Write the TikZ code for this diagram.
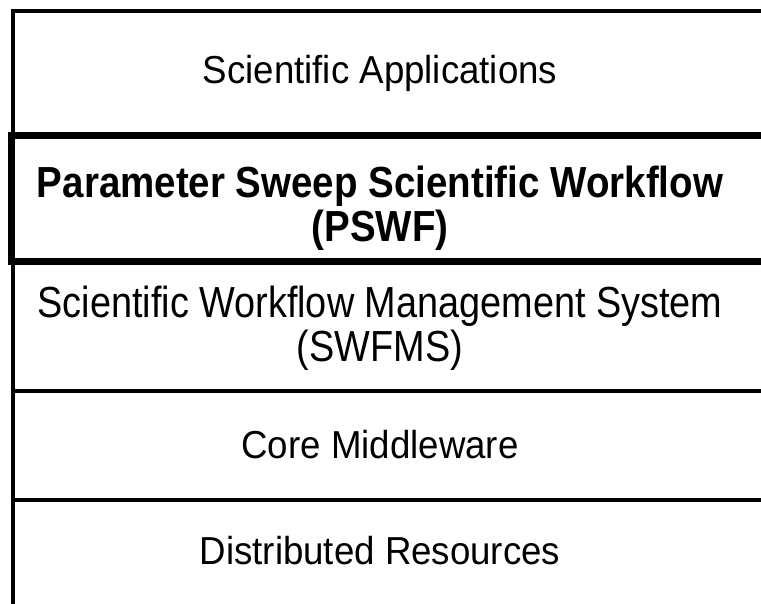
\documentclass[tikz,border=0pt]{standalone}
\usepackage{fontspec}
\setmainfont{Liberation Sans}
\newfontfamily\layerfont[FakeStretch=0.94]{Liberation Sans}
\newfontfamily\widelayerfont[FakeStretch=0.87]{Liberation Sans}
\newfontfamily\boldlayerfont[FakeStretch=0.885]{Liberation Sans Bold}
\begin{document}
\begin{tikzpicture}[x=1pt,y=-1pt,
    layer/.style={font=\layerfont\fontsize{39}{44}\selectfont, align=center, inner sep=0pt},
    widelayer/.style={layer, font=\widelayerfont\fontsize{43.5}{44}\selectfont},
    boldlayer/.style={layer, font=\boldlayerfont\fontsize{43.5}{44}\selectfont},
    thinline/.style={line width=4pt},
    thickline/.style={line width=7pt}]
    \useasboundingbox (0,0) rectangle (761,603);
    % layer borders
    \draw[thinline] (790,10.5) -- (12.5,10.5) -- (12.5,620);
    \foreach \y in {390.5,499.5}
      \draw[thinline] (12.5,\y) -- (790,\y);
    \draw[thickline] (790,135.5) -- (11.5,135.5) -- (11.5,261.5) -- (790,261.5);
    % layer names
    \node[layer] (apps) at (380,73) {Scientific Applications};
    \node[boldlayer] (pswf) at (380,208) {Parameter Sweep Scientific Workflow\\(PSWF)};
    \node[widelayer] (swfms) at (380,328) {Scientific Workflow Management System\\(SWFMS)};
    \node[layer] (core) at (380,445) {Core Middleware};
    \node[layer] (dist) at (380,551) {Distributed Resources};
  \end{tikzpicture}
\end{document}
